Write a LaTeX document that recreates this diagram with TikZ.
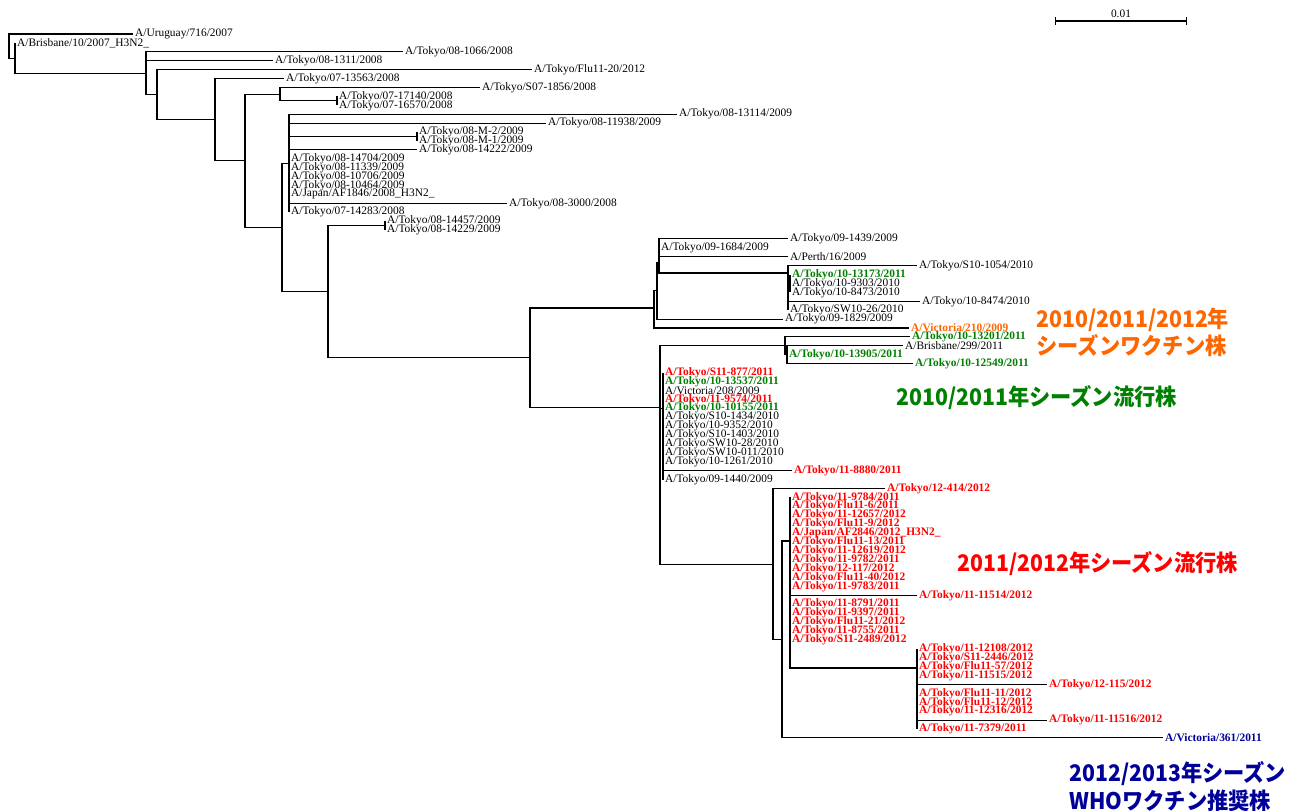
\documentclass[tikz,border=0pt]{standalone}
\usepackage{fontspec}
\setmainfont{Liberation Serif}
\newfontfamily\jpfont{Noto Sans CJK JP}[FakeStretch=0.93]
\usepackage{xcolor}
\usepackage{tikz}
\usetikzlibrary{arrows.meta}

\definecolor{epired}{RGB}{255,0,0}
\definecolor{epigreen}{RGB}{0,128,0}
\definecolor{vacorange}{RGB}{255,102,0}
\definecolor{whoblue}{RGB}{0,0,153}
\newcommand{\tipfont}{\fontsize{6.5}{7}\selectfont}

\begin{document}
\begin{tikzpicture}[
    x=0.02cm, y=-0.02cm,
    tip/.style={anchor=west, inner sep=1pt, font=\tipfont},
    red11/.style={tip, text=epired, font=\tipfont\bfseries},
    green10/.style={tip, text=epigreen, font=\tipfont\bfseries},
    vaccine/.style={tip, text=vacorange, font=\tipfont\bfseries},
    who/.style={tip, text=whoblue, font=\tipfont\bfseries},
    branch/.style={draw, line width=0.6pt},
    season/.style={anchor=west, align=left, inner sep=0pt, font=\jpfont\bfseries\fontsize{13}{15.5}\selectfont}
]
    \useasboundingbox (0,0) rectangle (1289,811);

    % --- Internal nodes ---
    \coordinate (root) at (9,46);
    \coordinate (n1) at (15,58.1);
    \coordinate (n2) at (146,73.2);
    \coordinate (n3) at (157,94.7);
    \coordinate (n4) at (215,119.7);
    \coordinate (n5) at (245,160.8);
    \coordinate (n6) at (280,94.2);
    \coordinate (n6b) at (337,100.9);
    \coordinate (n7) at (282,227.4);
    \coordinate (n8) at (289,163.2);
    \coordinate (nm) at (417,136.5);
    \coordinate (n9) at (328,291.6);
    \coordinate (n10) at (385,225.6);
    \coordinate (n11) at (530,357.6);
    \coordinate (n12) at (654,308);
    \coordinate (n12b) at (657,290.7);
    \coordinate (n13) at (659,262.7);
    \coordinate (n14) at (788,273);
    \coordinate (n15) at (790,283.5);
    \coordinate (n20) at (660,407.2);
    \coordinate (n21) at (785,345.9);
    \coordinate (n21b) at (787,354.8);
    \coordinate (n22) at (663,408.2);
    \coordinate (n30) at (773,564.2);
    \coordinate (n31) at (782,639.9);
    \coordinate (n32) at (790,541);
    \coordinate (n33) at (917,668);

    % --- Tips: 2007-2009 strains ---
    \node[tip] (t00) at (133,34.0) {A/Uruguay/716/2007};
    \node[tip] (t01) at (15,42.9) {A/Brisbane/10/2007\_H3N2\_};
    \node[tip] (t02) at (403,51.8) {A/Tokyo/08-1066/2008};
    \node[tip] (t03) at (273,60.7) {A/Tokyo/08-1311/2008};
    \node[tip] (t04) at (532,69.6) {A/Tokyo/Flu11-20/2012};
    \node[tip] (t05) at (284,78.6) {A/Tokyo/07-13563/2008};
    \node[tip] (t06) at (480,87.5) {A/Tokyo/S07-1856/2008};
    \node[tip] (t07) at (337,96.4) {A/Tokyo/07-17140/2008};
    \node[tip] (t08) at (337,105.3) {A/Tokyo/07-16570/2008};
    \node[tip] (t09) at (677,114.2) {A/Tokyo/08-13114/2009};
    \node[tip] (t10) at (546,123.1) {A/Tokyo/08-11938/2009};
    \node[tip] (t11) at (417,132.0) {A/Tokyo/08-M-2/2009};
    \node[tip] (t12) at (417,140.9) {A/Tokyo/08-M-1/2009};
    \node[tip] (t13) at (417,149.8) {A/Tokyo/08-14222/2009};
    \node[tip] (t14) at (289,158.7) {A/Tokyo/08-14704/2009};
    \node[tip] (t15) at (289,167.7) {A/Tokyo/08-11339/2009};
    \node[tip] (t16) at (289,176.6) {A/Tokyo/08-10706/2009};
    \node[tip] (t17) at (289,185.5) {A/Tokyo/08-10464/2009};
    \node[tip] (t18) at (289,194.4) {A/Japan/AF1846/2008\_H3N2\_};
    \node[tip] (t19) at (507,203.3) {A/Tokyo/08-3000/2008};
    \node[tip] (t20) at (289,212.2) {A/Tokyo/07-14283/2008};
    \node[tip] (t21) at (385,221.1) {A/Tokyo/08-14457/2009};
    \node[tip] (t22) at (385,230.0) {A/Tokyo/08-14229/2009};

    % --- Tips: Perth clade ---
    \node[tip] (t23) at (788,238.9) {A/Tokyo/09-1439/2009};
    \node[tip] (t24) at (659,247.8) {A/Tokyo/09-1684/2009};
    \node[tip] (t25) at (788,256.8) {A/Perth/16/2009};
    \node[tip] (t26) at (917,265.7) {A/Tokyo/S10-1054/2010};
    \node[green10] (t27) at (790,274.6) {A/Tokyo/10-13173/2011};
    \node[tip] (t28) at (790,283.5) {A/Tokyo/10-9303/2010};
    \node[tip] (t29) at (790,292.4) {A/Tokyo/10-8473/2010};
    \node[tip] (t30) at (920,301.3) {A/Tokyo/10-8474/2010};
    \node[tip] (t31) at (788,310.2) {A/Tokyo/SW10-26/2010};
    \node[tip] (t32) at (783,319.1) {A/Tokyo/09-1829/2009};
    \node[vaccine] (t33) at (909,328.0) {A/Victoria/210/2009};

    % --- Tips: Victoria/208 clade ---
    \node[green10] (t34) at (910,336.9) {A/Tokyo/10-13201/2011};
    \node[tip] (t35) at (903,345.9) {A/Brisbane/299/2011};
    \node[green10] (t36) at (787,354.8) {A/Tokyo/10-13905/2011};
    \node[green10] (t37) at (913,363.7) {A/Tokyo/10-12549/2011};
    \node[red11] (t38) at (663,372.6) {A/Tokyo/S11-877/2011};
    \node[green10] (t39) at (663,381.5) {A/Tokyo/10-13537/2011};
    \node[tip] (t40) at (663,390.4) {A/Victoria/208/2009};
    \node[red11] (t41) at (663,399.3) {A/Tokyo/11-9574/2011};
    \node[green10] (t42) at (663,408.2) {A/Tokyo/10-10155/2011};
    \node[tip] (t43) at (663,417.1) {A/Tokyo/S10-1434/2010};
    \node[tip] (t44) at (663,426.0) {A/Tokyo/10-9352/2010};
    \node[tip] (t45) at (663,435.0) {A/Tokyo/S10-1403/2010};
    \node[tip] (t46) at (663,443.9) {A/Tokyo/SW10-28/2010};
    \node[tip] (t47) at (663,452.8) {A/Tokyo/SW10-011/2010};
    \node[tip] (t48) at (663,461.7) {A/Tokyo/10-1261/2010};
    \node[red11] (t49) at (792,470.6) {A/Tokyo/11-8880/2011};
    \node[tip] (t50) at (663,479.5) {A/Tokyo/09-1440/2009};

    % --- Tips: 2011/2012 clade ---
    \node[red11] (t51) at (885,488.4) {A/Tokyo/12-414/2012};
    \node[red11] (t52) at (790,497.3) {A/Tokyo/11-9784/2011};
    \node[red11] (t53) at (790,506.2) {A/Tokyo/Flu11-6/2011};
    \node[red11] (t54) at (790,515.1) {A/Tokyo/11-12657/2012};
    \node[red11] (t55) at (790,524.1) {A/Tokyo/Flu11-9/2012};
    \node[red11] (t56) at (790,533.0) {A/Japan/AF2846/2012\_H3N2\_};
    \node[red11] (t57) at (790,541.9) {A/Tokyo/Flu11-13/2011};
    \node[red11] (t58) at (790,550.8) {A/Tokyo/11-12619/2012};
    \node[red11] (t59) at (790,559.7) {A/Tokyo/11-9782/2011};
    \node[red11] (t60) at (790,568.6) {A/Tokyo/12-117/2012};
    \node[red11] (t61) at (790,577.5) {A/Tokyo/Flu11-40/2012};
    \node[red11] (t62) at (790,586.4) {A/Tokyo/11-9783/2011};
    \node[red11] (t63) at (917,595.3) {A/Tokyo/11-11514/2012};
    \node[red11] (t64) at (790,604.2) {A/Tokyo/11-8791/2011};
    \node[red11] (t65) at (790,613.2) {A/Tokyo/11-9397/2011};
    \node[red11] (t66) at (790,622.1) {A/Tokyo/Flu11-21/2012};
    \node[red11] (t67) at (790,631.0) {A/Tokyo/11-8755/2011};
    \node[red11] (t68) at (790,639.9) {A/Tokyo/S11-2489/2012};
    \node[red11] (t69) at (917,648.8) {A/Tokyo/11-12108/2012};
    \node[red11] (t70) at (917,657.7) {A/Tokyo/S11-2446/2012};
    \node[red11] (t71) at (917,666.6) {A/Tokyo/Flu11-57/2012};
    \node[red11] (t72) at (917,675.5) {A/Tokyo/11-11515/2012};
    \node[red11] (t73) at (1047,684.4) {A/Tokyo/12-115/2012};
    \node[red11] (t74) at (917,693.3) {A/Tokyo/Flu11-11/2012};
    \node[red11] (t75) at (917,702.3) {A/Tokyo/Flu11-12/2012};
    \node[red11] (t76) at (917,711.2) {A/Tokyo/11-12316/2012};
    \node[red11] (t77) at (1047,720.1) {A/Tokyo/11-11516/2012};
    \node[red11] (t78) at (917,729.0) {A/Tokyo/11-7379/2011};
    \node[who] (t79) at (1163,737.9) {A/Victoria/361/2011};

    % Branches
    \path[branch] (root) |- (t00.west) (root) |- (n1);
    \path[branch] (n1) |- (t01.west) (n1) |- (n2);
    \path[branch] (n2) |- (t02.west) (n2) |- (t03.west) (n2) |- (n3);
    \path[branch] (n3) |- (t04.west) (n3) |- (n4);
    \path[branch] (n4) |- (t05.west) (n4) |- (n5);
    \path[branch] (n5) |- (n6) (n5) |- (n7);
    \path[branch] (n6) |- (t06.west) (n6) |- (n6b);
    \path[branch] (n6b) |- (t07.west) (n6b) |- (t08.west);
    \path[branch] (n7) |- (n8) (n7) |- (n9);
    \path[branch] (n8) |- (t09.west) (n8) |- (t10.west) (n8) |- (nm) (n8) |- (t13.west)
        (n8) |- (t14.west) (n8) |- (t15.west) (n8) |- (t16.west) (n8) |- (t17.west)
        (n8) |- (t18.west) (n8) |- (t19.west) (n8) |- (t20.west);
    \path[branch] (nm) |- (t11.west) (nm) |- (t12.west);
    \path[branch] (n9) |- (n10) (n9) |- (n11);
    \path[branch] (n10) |- (t21.west) (n10) |- (t22.west);
    \path[branch] (n11) |- (n12) (n11) |- (n20);
    \path[branch] (n12) |- (n12b) (n12) |- (t33.west);
    \path[branch] (n12b) |- (n13) (n12b) |- (t32.west);
    \path[branch] (n13) |- (t23.west) (n13) |- (t24.west) (n13) |- (t25.west) (n13) |- (n14);
    \path[branch] (n14) |- (t26.west) (n14) |- (n15) (n14) |- (t30.west) (n14) |- (t31.west);
    \path[branch] (n15) |- (t27.west) (n15) |- (t28.west) (n15) |- (t29.west);
    \path[branch] (n20) |- (n21) (n20) |- (n22) (n20) |- (n30);
    \path[branch] (n21) |- (t34.west) (n21) |- (n21b);
    \path[branch] (n21b) |- (t35.west) (n21b) |- (t36.west) (n21b) |- (t37.west);
    \path[branch] (n22) |- (t38.west) (n22) |- (t39.west) (n22) |- (t40.west) (n22) |- (t41.west)
        (n22) |- (t42.west) (n22) |- (t43.west) (n22) |- (t44.west) (n22) |- (t45.west)
        (n22) |- (t46.west) (n22) |- (t47.west) (n22) |- (t48.west) (n22) |- (t49.west)
        (n22) |- (t50.west);
    \path[branch] (n30) |- (t51.west) (n30) |- (n31);
    \path[branch] (n31) |- (n32) (n31) |- (t79.west);
    \path[branch] (n32) |- (t52.west) (n32) |- (t53.west) (n32) |- (t54.west) (n32) |- (t55.west)
        (n32) |- (t56.west) (n32) |- (t57.west) (n32) |- (t58.west) (n32) |- (t59.west)
        (n32) |- (t60.west) (n32) |- (t61.west) (n32) |- (t62.west) (n32) |- (t63.west)
        (n32) |- (t64.west) (n32) |- (t65.west) (n32) |- (t66.west) (n32) |- (t67.west)
        (n32) |- (t68.west) (n32) |- (n33);
    \path[branch] (n33) |- (t69.west) (n33) |- (t70.west) (n33) |- (t71.west) (n33) |- (t72.west)
        (n33) |- (t73.west) (n33) |- (t74.west) (n33) |- (t75.west) (n33) |- (t76.west)
        (n33) |- (t77.west) (n33) |- (t78.west);

    % Scale bar
    \coordinate (sb0) at (1055,21);
    \coordinate (sb1) at (1187,21);
    \path[branch, {Bar[width=4.5pt]}-{Bar[width=4.5pt]}] (sb0) -- (sb1);
    \node[tip, anchor=center] (sblab) at (1121,14) {0.01};

    % Season labels
    \node[season, text=vacorange] (vac) at (1036,332) {2010/2011/2012年\\シーズンワクチン株};
    \node[season, text=epigreen] (epi10) at (896,398) {2010/2011年シーズン流行株};
    \node[season, text=epired] (epi11) at (957,564) {2011/2012年シーズン流行株};
    \node[season, text=whoblue] (whovac) at (1069,786.5) {2012/2013年シーズン\\WHOワクチン推奨株};

\end{tikzpicture}
\end{document}
